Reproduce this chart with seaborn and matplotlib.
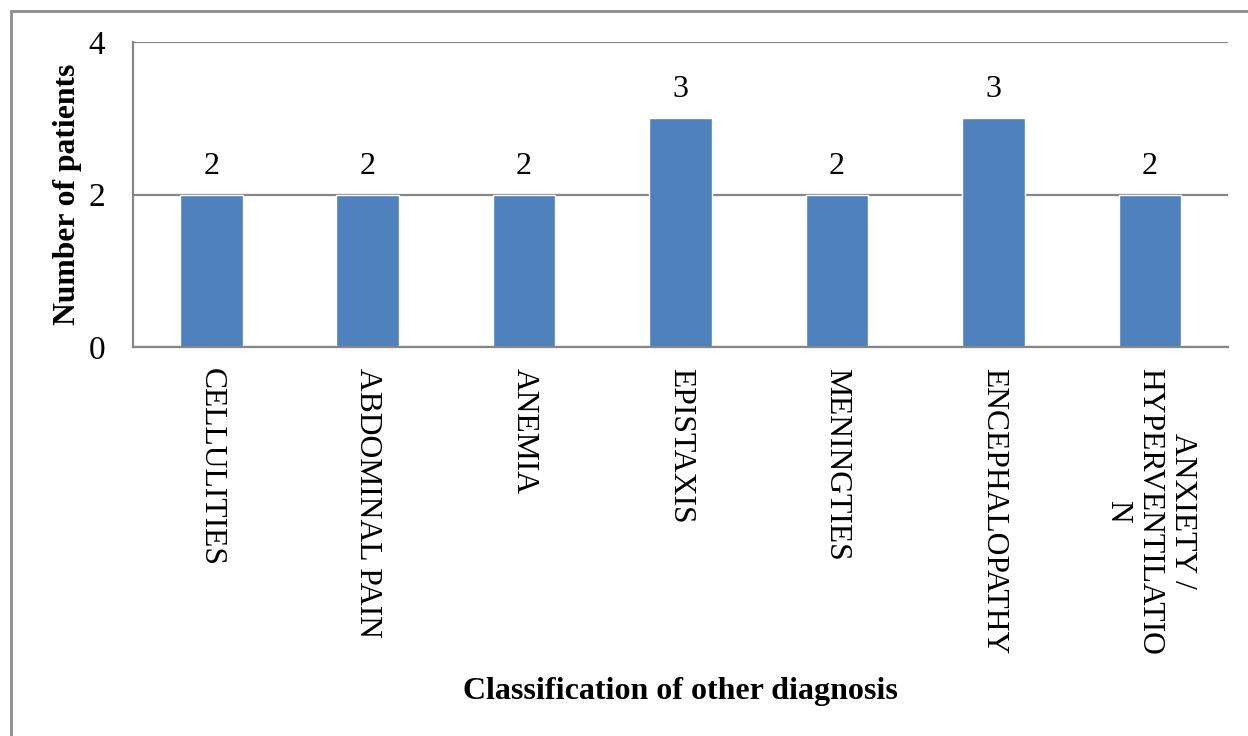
import matplotlib
matplotlib.use('Agg')
import matplotlib.pyplot as plt
import seaborn as sns
import pandas as pd
from matplotlib.patches import Rectangle

diagnoses = ['CELLULITIES', 'ABDOMINAL PAIN', 'ANEMIA', 'EPISTAXIS',
             'MENINGTIES', 'ENCEPHALOPATHY', 'ANXIETY /\nHYPERVENTILATIO\nN']
patients = [2, 2, 2, 3, 2, 3, 2]
y_ticks = [0, 2, 4]

df = pd.DataFrame({'diagnosis': diagnoses, 'patients': patients})

sns.set_style('white')
plt.rcParams['font.family'] = ['Liberation Serif', 'DejaVu Serif']
plt.rcParams['text.color'] = 'black'
plt.rcParams['axes.labelcolor'] = 'black'
plt.rcParams['xtick.color'] = 'black'
plt.rcParams['ytick.color'] = 'black'

fig = plt.figure(figsize=(12.48, 7.36), dpi=100)
ax = fig.add_axes([133 / 1248, 1 - 347 / 736, (1228 - 133) / 1248, (347 - 42) / 736])

sns.barplot(data=df, x='diagnosis', y='patients', color='#4F81BD',
            saturation=1, width=0.4, ax=ax)

grid_c = '#868686'
ax.set_ylim(0, 4)
ax.set_yticks(y_ticks)
ax.yaxis.grid(True, color=grid_c, linewidth=1.6)
ax.set_axisbelow(True)
for s in ['top', 'right']:
    ax.spines[s].set_visible(False)
for s in ['left', 'bottom']:
    ax.spines[s].set_color(grid_c)
    ax.spines[s].set_linewidth(1.6)

ax.tick_params(axis='y', length=7, width=1.6, color=grid_c, labelcolor='black',
               pad=13, labelsize=24)
ax.tick_params(axis='x', length=0, pad=15)
ax.set_xticks(range(len(diagnoses)))
ax.set_xticklabels(diagnoses, rotation=270, ha='center', va='top',
                   fontsize=22.8, linespacing=1.15, multialignment='center')

ax.bar_label(ax.containers[0], padding=10, fontsize=23)

ax.set_ylabel('Number of patients', fontsize=22.8, fontweight='bold', labelpad=5)
ax.set_xlabel('')
fig.text(680 / 1248, 1 - 692 / 736, 'Classification of other diagnosis',
         ha='center', va='center', fontsize=23, fontweight='bold')

# outer chart frame (cropped on right and bottom)
fig.patches.append(Rectangle((11 / 1248, -0.1), 1.2, 1 - 11 / 736 + 0.1,
                             transform=fig.transFigure, fill=False,
                             edgecolor='#8c8c8c', linewidth=2))

fig.savefig('out.png', dpi=100)
